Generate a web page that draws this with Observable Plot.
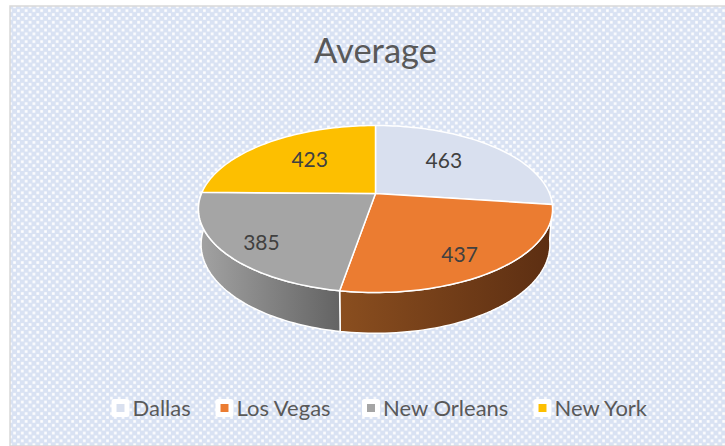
<!DOCTYPE html>
<html><head><meta charset="utf-8">
<script src="https://cdn.jsdelivr.net/npm/d3@7"></script>
<script src="https://cdn.jsdelivr.net/npm/@observablehq/plot@0.6"></script>
<style>html,body{margin:0;padding:0;background:#fff}svg{display:block}</style>
</head><body><div id="chart"></div>
<script>
const title = "Average";
const cities = ["Dallas", "Los Vegas", "New Orleans", "New York"];
const averages = [463, 437, 385, 423];
const colors = ["#d9e0ef", "#eb7c31", "#a5a5a5", "#fdbf00"];

// label placement within each slice, as a fraction of the radius and a turn from the slice's middle
const labelRadius = [0.62, 0.79, 0.80, 0.61];
const labelTurn = [-4.7, 3.5, -3.4, 3.1];
const legendX = [120, 224, 370.5, 542];

const W = 725, H = 446;
const cx = 375, cy = 193, rx = 174, ry = 80.6, persp = 0.1856, drop = 34.5, shrink = 0.985;

const total = d3.sum(averages);
let acc = 0;
const slices = cities.map((city, i) => {
  const a0 = acc / total * 2 * Math.PI;
  acc += averages[i];
  return {city, value: averages[i], a0, a1: acc / total * 2 * Math.PI, i};
});

// The pie's plane seen in perspective: plane units map to pixel-scaled data units.
const top3d = (a, r = 1) => {
  const u = r * Math.sin(a), v = r * Math.cos(a), s = 1 / (1 + persp * v);
  return {x: u * s, y: v * s};
};
const low3d = (a) => {
  const p = top3d(a), s = 1 / (1 + persp * Math.cos(a));
  return {x: p.x * shrink, y: p.y * shrink - drop * s / ry};
};
const arcAngles = (a0, a1) => d3.range(0, 61).map(k => a0 + (a1 - a0) * k / 60);

const topRows = slices.flatMap(d => [
  {...top3d(0, 0), city: d.city},
  ...arcAngles(d.a0, d.a1).map(a => ({...top3d(a), city: d.city})),
  {...top3d(0, 0), city: d.city}
]);

// Visible wall: the front half of the rim, from the right silhouette to the left one.
const rimStart = 1.62, rimEnd = 4.75;
const wallRows = slices.flatMap(d => {
  const a0 = Math.max(d.a0, rimStart), a1 = Math.min(d.a1, rimEnd);
  if (a1 <= a0) return [];
  const as = arcAngles(a0, a1);
  return [...as.map(a => ({...top3d(a), city: d.city})),
          ...as.slice().reverse().map(a => ({...low3d(a), city: d.city}))];
});

const labels = slices.map((d, i) => {
  const mid = (d.a0 + d.a1) / 2 + labelTurn[i] * Math.PI / 180;
  return {...top3d(mid, labelRadius[i]), text: String(d.value)};
});

const defs = () => {
  const svg = d3.create("svg:g");
  const ns = svg.append("defs");
  const t = 7.75;
  const p = ns.append("pattern").attr("id", "dots").attr("patternUnits", "userSpaceOnUse")
    .attr("width", t).attr("height", t);
  p.append("rect").attr("width", t).attr("height", t).attr("fill", "#d9e2f3");
  p.append("rect").attr("x", 1.1).attr("y", 1.1).attr("width", 2.6).attr("height", 2.6).attr("fill", "#fff");
  p.append("rect").attr("x", 5).attr("y", 5).attr("width", 2.6).attr("height", 2.6).attr("fill", "#fff");
  const g = (id, a, b) => {
    const lg = ns.append("linearGradient").attr("id", id).attr("x1", 0).attr("x2", 1).attr("y1", 0).attr("y2", 0);
    lg.append("stop").attr("offset", 0).attr("stop-color", a);
    lg.append("stop").attr("offset", 1).attr("stop-color", b);
  };
  g("wall1", "#8a4e1f", "#5c2e12");
  g("wall2", "#a3a3a3", "#636363");
  return svg.node();
};

const wallFill = {"Los Vegas": "url(#wall1)", "New Orleans": "url(#wall2)"};
const font = "Lato, Carlito, Calibri, sans-serif";

const chart = Plot.plot({
  width: W, height: H, margin: 0,
  style: {background: "#fff", fontFamily: font, overflow: "hidden"},
  x: {domain: [-cx / rx, (W - cx) / rx], range: [0, W], axis: null},
  y: {domain: [-(H - cy) / ry, cy / ry], range: [H, 0], axis: null},
  color: {domain: cities, range: colors},
  marks: [
    defs,
    Plot.frame({fill: "url(#dots)", stroke: "#d9d9d9", strokeWidth: 1.5, insetLeft: 9.5, insetTop: 5.5, insetRight: -3, insetBottom: 0.5}),
    ...d3.groups(wallRows, d => d.city).map(([city, rows]) =>
      Plot.line(rows, {x: "x", y: "y", fill: wallFill[city], stroke: "#fff", strokeWidth: 1.5, curve: "linear-closed"})),
    Plot.line(topRows, {x: "x", y: "y", z: "city", fill: "city", stroke: "#fff", strokeWidth: 1.5, curve: "linear"}),
    Plot.text(labels, {x: "x", y: "y", dy: 1, dx: -1, text: "text", fontSize: 21, fill: "#404040"}),
    Plot.text([title], {frameAnchor: "top-left", lineAnchor: "middle", dx: 375, dy: 51, fontSize: 34.5, fill: "#595959", textAnchor: "middle"}),
    ...cities.flatMap((c, i) => [
      Plot.dot([c], {frameAnchor: "top-left", dx: legendX[i], dy: 407.5, symbol: "square", r: 7.3, fill: "#fff", stroke: "#fff", strokeWidth: 5, strokeLinejoin: "round"}),
      Plot.dot([c], {frameAnchor: "top-left", dx: legendX[i], dy: 407.5, symbol: "square", r: 4.5, fill: colors[i]}),
      Plot.text([c], {frameAnchor: "top-left", lineAnchor: "middle", dx: legendX[i] + 12, dy: 408, text: d => d, fontSize: 22, fill: "#595959", textAnchor: "start"})
    ])
  ]
});
document.getElementById("chart").append(chart);
</script>
</body></html>
